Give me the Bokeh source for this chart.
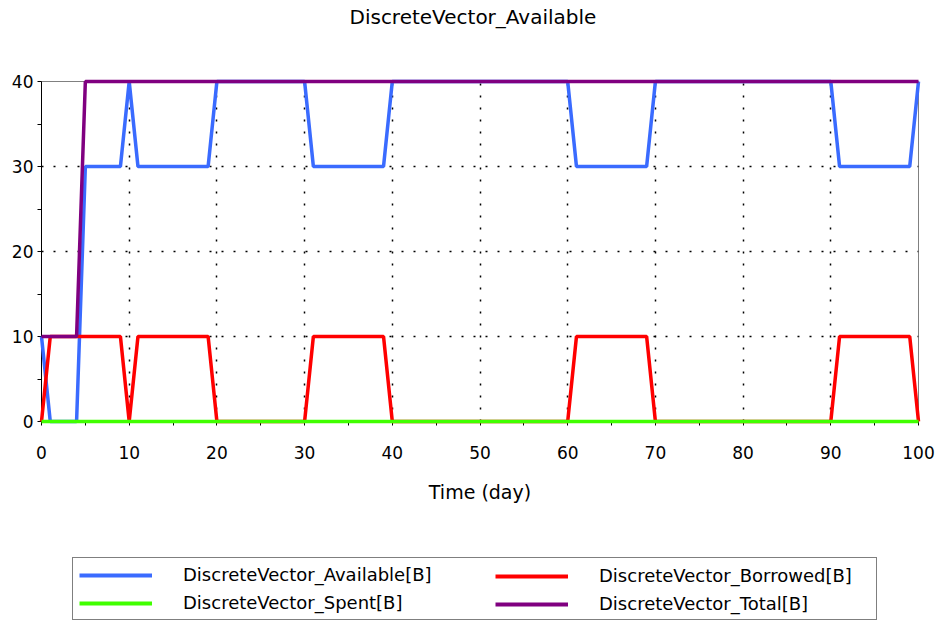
from bokeh.plotting import figure
from bokeh.models import Range1d, Legend, LegendItem, FixedTicker
from bokeh.layouts import column
from bokeh.embed import file_html
from bokeh.resources import INLINE
from bokeh.core.validation import silence
from bokeh.core.validation.warnings import MISSING_RENDERERS

silence(MISSING_RENDERERS, True)

# ---- data (vertices of each piecewise-linear series) ----
avail_days = [0, 1, 4, 5, 9, 10, 11, 19, 20, 30, 31, 39, 40, 60, 61, 69, 70, 90, 91, 99, 100]
avail_vals = [10, 0, 0, 30, 30, 40, 30, 30, 40, 40, 30, 30, 40, 40, 30, 30, 40, 40, 30, 30, 40]

borrow_days = [0, 1, 9, 10, 11, 19, 20, 30, 31, 39, 40, 60, 61, 69, 70, 90, 91, 99, 100]
borrow_vals = [0, 10, 10, 0, 10, 10, 0, 0, 10, 10, 0, 0, 10, 10, 0, 0, 10, 10, 0]

spent_days = [0, 100]
spent_vals = [0, 0]

total_days = [0, 4, 5, 100]
total_vals = [10, 10, 40, 40]

x_ticks = [0, 10, 20, 30, 40, 50, 60, 70, 80, 90, 100]
x_minor = [5, 15, 25, 35, 45, 55, 65, 75, 85, 95]
y_ticks = [0, 10, 20, 30, 40]
y_minor = [5, 15, 25, 35]

title_text = "DiscreteVector_Available"
names = ["DiscreteVector_Available[B]", "DiscreteVector_Borrowed[B]",
         "DiscreteVector_Spent[B]", "DiscreteVector_Total[B]"]
colors = ["#3A6BFF", "#FF0000", "#40FF00", "#800080"]

FONT = "DejaVu Sans"
W = 939
H0 = 66
H1 = 484
H2 = 71


def blank(fig):
    fig.axis.visible = False
    fig.grid.visible = False
    fig.outline_line_color = None
    fig.background_fill_color = "white"
    fig.border_fill_color = "white"


# ---- title strip ----
t = figure(width=W, height=H0, output_backend="svg", toolbar_location=None,
           x_range=Range1d(0, 1), y_range=Range1d(0, 1), title=title_text,
           min_border_left=0, min_border_right=0, min_border_top=0, min_border_bottom=0)
blank(t)
t.title.text_font = FONT
t.title.text_font_size = "20px"
t.title.text_font_style = "normal"
t.title.text_color = "black"
t.title.align = "left"
t.title.vertical_align = "top"
t.title.standoff = 8
t.title.offset = 308

# ---- main chart ----
p = figure(width=W, height=H1, output_backend="svg", toolbar_location=None,
           x_range=Range1d(0, 100), y_range=Range1d(0, 40),
           min_border_left=41, min_border_right=21, min_border_top=15, min_border_bottom=129)
p.background_fill_color = "white"
p.border_fill_color = "white"
p.outline_line_color = "#808080"
p.outline_line_width = 1

p.xaxis.ticker = FixedTicker(ticks=x_ticks, minor_ticks=x_minor)
p.yaxis.ticker = FixedTicker(ticks=y_ticks, minor_ticks=y_minor)
for ax in (p.xaxis[0], p.yaxis[0]):
    ax.major_label_text_font = FONT
    ax.major_label_text_font_size = "17px"
    ax.major_label_text_color = "black"
    ax.axis_line_color = "black"
    ax.major_tick_line_color = "black"
    ax.minor_tick_line_color = "black"
    ax.major_tick_in = 0
    ax.major_tick_out = 4
    ax.minor_tick_in = 0
    ax.minor_tick_out = 4
p.xaxis.major_label_standoff = 20
p.yaxis.major_label_standoff = 4
p.xaxis.axis_label = "Time (day)"
p.xaxis.axis_label_text_font = FONT
p.xaxis.axis_label_text_font_size = "19px"
p.xaxis.axis_label_text_font_style = "normal"
p.xaxis.axis_label_text_color = "black"
p.xaxis.axis_label_standoff = 19

p.xgrid.ticker = FixedTicker(ticks=x_ticks[1:-1])
p.ygrid.ticker = FixedTicker(ticks=y_ticks[1:-1])
for g in (p.xgrid[0], p.ygrid[0]):
    g.grid_line_color = "black"
    g.grid_line_dash = "2 10"
    g.grid_line_width = 1.5

series = [(avail_days, avail_vals), (borrow_days, borrow_vals),
          (spent_days, spent_vals), (total_days, total_vals)]
for (xs, ys), c in zip(series, colors):
    p.line(xs, ys, line_color=c, line_width=3.5, level="overlay")

# ---- legend strip below the chart (proxy renderers lie outside its view) ----
q = figure(width=W, height=H2, output_backend="svg", toolbar_location=None,
           x_range=Range1d(0, 100), y_range=Range1d(1000, 1001),
           min_border_left=0, min_border_right=0, min_border_top=0, min_border_bottom=0)
blank(q)
lrends = [q.line(xs, ys, line_color=c, line_width=4) for (xs, ys), c in zip(series, colors)]

common = dict(glyph_width=73, glyph_height=20, label_height=20, label_standoff=31,
              label_text_font=FONT, label_text_font_size="18px", label_text_color="black",
              padding=6, spacing=7, margin=0)

leg1 = Legend(items=[LegendItem(label=names[0], renderers=[lrends[0]]),
                     LegendItem(label=names[2], renderers=[lrends[2]])],
              location=(31, 1), border_line_color="black", border_line_width=1,
              background_fill_alpha=1.0, label_width=687, **common)
leg2 = Legend(items=[LegendItem(label=names[1], renderers=[lrends[1]]),
                     LegendItem(label=names[3], renderers=[lrends[3]])],
              location=(448, 1), border_line_alpha=0, background_fill_alpha=0,
              **common)
q.add_layout(leg1, "center")
q.add_layout(leg2, "center")

layout = column(t, p, q, spacing=0)
open("out.html", "w").write(file_html(layout, INLINE))
